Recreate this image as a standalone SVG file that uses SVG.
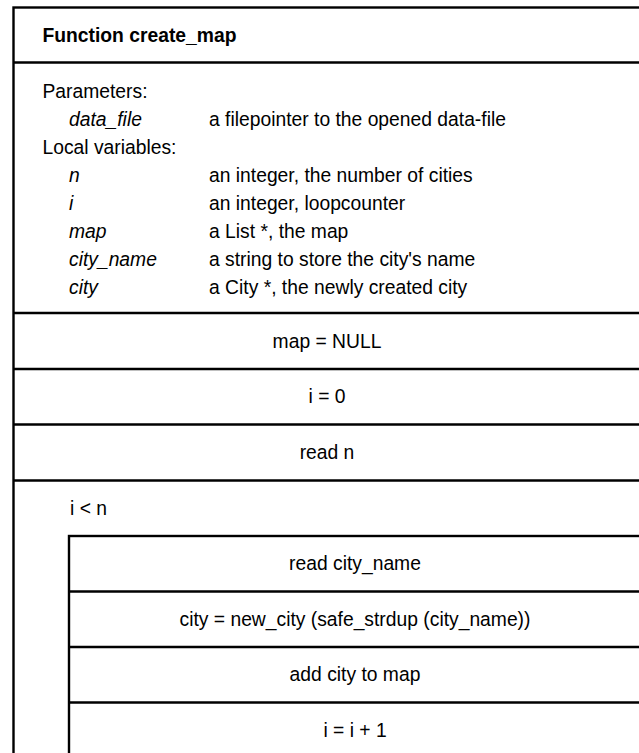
<svg xmlns="http://www.w3.org/2000/svg" width="639" height="753" viewBox="0 0 639 753">
<style>
.b{fill:#fff;stroke:#000;stroke-width:2.4}
.l{stroke:#000;stroke-width:2.4;fill:none}
text{font-family:"Liberation Sans",Arial,sans-serif;font-size:19.3px;fill:#000}
.h{font-weight:bold}
.it{font-style:italic}
.c{text-anchor:middle}
</style>
<rect width="639" height="753" fill="#fff"/>
<g id="frame">
<rect class="b" x="13.5" y="7.5" width="628" height="760"/>
</g>
<g id="header">
<text class="h" x="42.5" y="42">Function create_map</text>
</g>
<g id="declarations">
<text x="42.5" y="98">Parameters:</text>
<text class="it" x="69" y="126">data_file</text>
<text x="209" y="126">a filepointer to the opened data-file</text>
<text x="42.5" y="154">Local variables:</text>
<text class="it" x="69" y="182">n</text>
<text x="209" y="182">an integer, the number of cities</text>
<text class="it" x="69" y="210">i</text>
<text x="209" y="210">an integer, loopcounter</text>
<text class="it" x="69" y="238">map</text>
<text x="209" y="238">a List *, the map</text>
<text class="it" x="69" y="266">city_name</text>
<text x="209" y="266">a string to store the city's name</text>
<text class="it" x="69" y="294">city</text>
<text x="209" y="294">a City *, the newly created city</text>
</g>
<g id="connectors">
<line class="l" x1="13.5" y1="62.5" x2="641" y2="62.5"/>
<line class="l" x1="13.5" y1="313" x2="641" y2="313"/>
<line class="l" x1="13.5" y1="369" x2="641" y2="369"/>
<line class="l" x1="13.5" y1="424.5" x2="641" y2="424.5"/>
<line class="l" x1="13.5" y1="480.5" x2="641" y2="480.5"/>
<line class="l" x1="69" y1="591.5" x2="641" y2="591.5"/>
<line class="l" x1="69" y1="647" x2="641" y2="647"/>
<line class="l" x1="69" y1="702.5" x2="641" y2="702.5"/>
</g>
<g id="s_map_null"><text class="c" x="327" y="348">map = NULL</text></g>
<g id="s_i_0"><text class="c" x="327" y="403">i = 0</text></g>
<g id="s_read_n"><text class="c" x="327" y="459">read n</text></g>
<g id="loop">
<text x="70" y="515">i &lt; n</text>
<rect class="b" x="69" y="536" width="580" height="240" style="fill:none"/>
</g>
<g id="s_read_city_name"><text class="c" x="355" y="570">read city_name</text></g>
<g id="s_new_city"><text class="c" x="355" y="626">city = new_city (safe_strdup (city_name))</text></g>
<g id="s_add_city"><text class="c" x="355" y="681">add city to map</text></g>
<g id="s_inc"><text class="c" x="355" y="737">i = i + 1</text></g>
</svg>
